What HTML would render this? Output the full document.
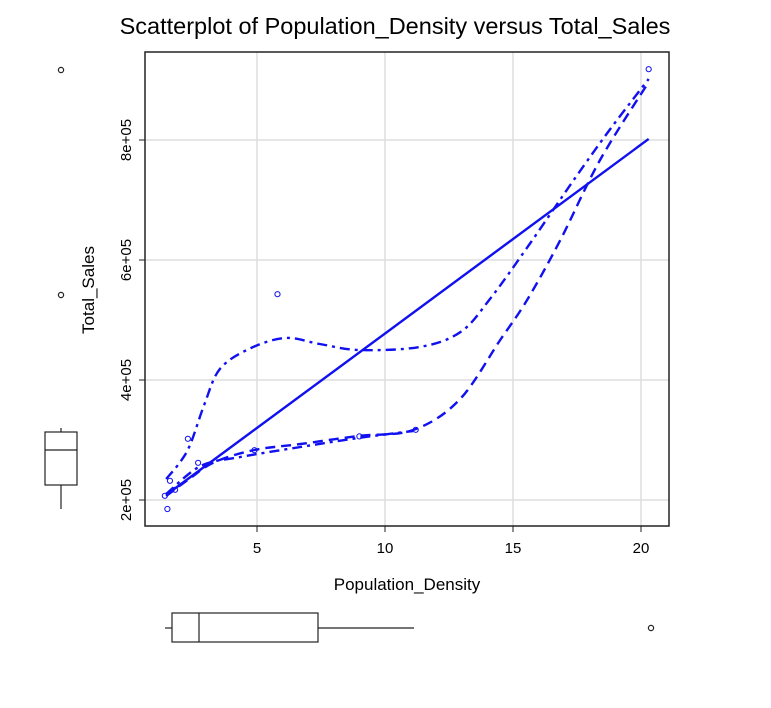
<!DOCTYPE html>
<html><head><meta charset="utf-8"><style>
body{margin:0;background:#fff;}
svg{display:block;font-family:"Liberation Sans",Arial,sans-serif;}
</style></head><body>
<svg id="chart" width="771" height="708">
<text x="395" y="34" font-size="23.5" text-anchor="middle">Scatterplot of Population_Density versus Total_Sales</text>
<g id="grid"></g>
<g id="marks"></g>
<rect x="145" y="52" width="524" height="474" fill="none" stroke="#222" stroke-width="1.5"/>
<g id="axes"></g>
<text x="407" y="590" font-size="17" text-anchor="middle">Population_Density</text>
<text transform="translate(94,290) rotate(-90)" font-size="17" text-anchor="middle">Total_Sales</text>
<g id="boxes"></g>
</svg>
<script>
const xs=[1.4,1.6,1.5,1.8,2.3,2.7,4.9,5.8,9.0,11.2,20.3];
const ys=[207000,232000,185000,217000,302000,262000,283000,543000,306000,317000,918000];
const xTicks=[5,10,15,20];
const yTicks=[200000,400000,600000,800000];
const yTickLabels=["2e+05","4e+05","6e+05","8e+05"];
const fitIntercept=162690, fitSlope=31480;
const smoothX=[1.45,2.4,3.35,4.9,6.7,8.95,11.1,12.9,14.5,15.55,16.85,18.4,20.3];
const smoothY=[206667,236667,263333,283333,293333,306667,316667,366667,466667,533333,633333,766667,896667];
const upperX=[1.45,2.0,2.4,2.95,3.55,4.7,6.1,7.45,9.0,11.35,12.95,14.1,15.65,17.4,18.8,20.3];
const upperY=[235000,263333,293333,360000,418333,452000,470000,460000,450000,455000,480000,535000,626667,735000,818333,901667];
const lowerX=[1.45,2.8,4.35,6.7,8.95,11.1];
const lowerY=[210000,256667,271667,288333,303333,315000];
const X=v=>129+v*25.6, Y=v=>500-(v-200000)*0.0006;
const NS="http://www.w3.org/2000/svg";
function mk(t,a,p){const e=document.createElementNS(NS,t);for(const k in a)e.setAttribute(k,a[k]);p.appendChild(e);return e;}
const grid=document.getElementById('grid'),marks=document.getElementById('marks'),axes=document.getElementById('axes'),boxes=document.getElementById('boxes');
xTicks.forEach(t=>{const l=mk('line',{x1:X(t),x2:X(t),y1:52,y2:526,stroke:'#ddd','stroke-width':1.5},grid);

const k=mk('line',{x1:X(t),x2:X(t),y1:526,y2:532,stroke:'#222'},axes);

const tx=mk('text',{x:X(t),y:553,'font-size':15,'text-anchor':'middle'},axes);tx.textContent=t;
});
yTicks.forEach((t,i)=>{const l=mk('line',{x1:145,x2:669,y1:Y(t),y2:Y(t),stroke:'#ddd','stroke-width':1.5},grid);

const k=mk('line',{x1:139,x2:145,y1:Y(t),y2:Y(t),stroke:'#222'},axes);

const tx=mk('text',{transform:`translate(131,${Y(t)}) rotate(-90)`,'font-size':15,'text-anchor':'middle'},axes);tx.textContent=yTickLabels[i];
});
function path(xa,ya,dash,name){const P=xa.map((v,i)=>[X(v),Y(ya[i])]);
let d='M'+P[0][0]+','+P[0][1];
for(let i=0;i<P.length-1;i++){const p0=P[i-1]||P[i],p1=P[i],p2=P[i+1],p3=P[i+2]||p2;
d+=`C${p1[0]+(p2[0]-p0[0])/6},${p1[1]+(p2[1]-p0[1])/6} ${p2[0]-(p3[0]-p1[0])/6},${p2[1]-(p3[1]-p1[1])/6} ${p2[0]},${p2[1]}`;}
const p=mk('path',{d:d,fill:'none',stroke:'#1010f0','stroke-width':2.4,'stroke-dasharray':dash,'stroke-linejoin':'round'},marks);
}
const fx=[1.45,20.3];
const fl=mk('line',{x1:X(fx[0]),y1:Y(fitIntercept+fitSlope*fx[0]),x2:X(fx[1]),y2:Y(fitIntercept+fitSlope*fx[1]),stroke:'#1010f0','stroke-width':2.4},marks);

path(smoothX,smoothY,'10,6','smooth-line');
path(upperX,upperY,'10,5,3,5','spread-upper-line');
path(lowerX,lowerY,'10,5,3,5','spread-lower-line');
xs.forEach((v,i)=>{const c=mk('circle',{cx:X(v),cy:Y(ys[i]),r:2.6,fill:'none',stroke:'#1010f0','stroke-width':1},marks);
});
const bs={stroke:'#222',fill:'none','stroke-width':1.2};
[['line',{x1:61,x2:61,y1:428,y2:432}],['rect',{x:45,y:432,width:32,height:53}],['line',{x1:45,x2:77,y1:450,y2:450}],['line',{x1:61,x2:61,y1:485,y2:509}],['circle',{cx:61,cy:70,r:2.6}],['circle',{cx:61,cy:295,r:2.6}],
['line',{x1:165,x2:172,y1:628,y2:628}],['rect',{x:172,y:613,width:146,height:29}],['line',{x1:199,x2:199,y1:613,y2:642}],['line',{x1:318,x2:414,y1:628,y2:628}],['circle',{cx:651,cy:628,r:2.6}]].forEach(([t,a],i)=>{
const e=mk(t,Object.assign({},bs,a),boxes);

});
</script>
</body></html>
